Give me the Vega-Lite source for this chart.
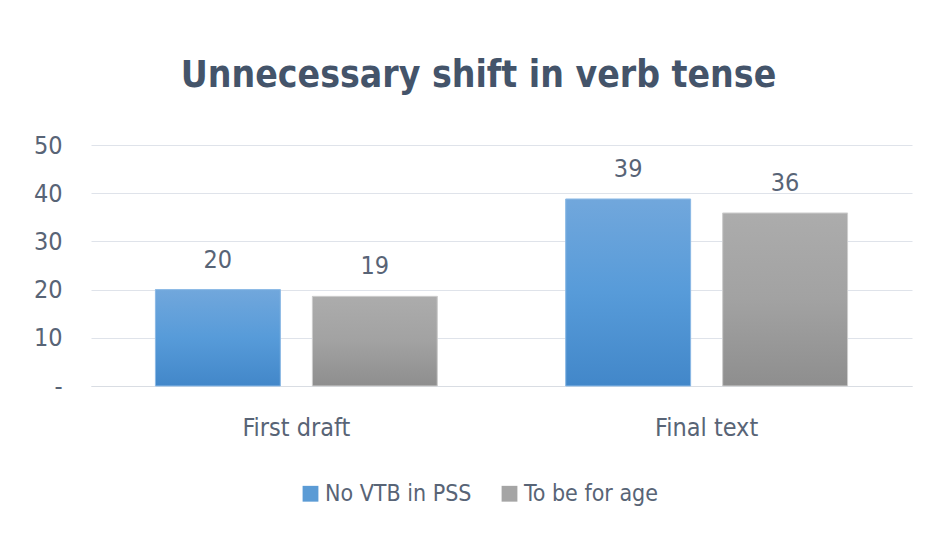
{
  "$schema": "https://vega.github.io/schema/vega-lite/v6.json",
  "width": 821,
  "height": 241,
  "autosize": {"type": "none"},
  "padding": {"left": 91, "top": 145, "right": 20, "bottom": 149},
  "background": "white",
  "config": {"view": {"stroke": null}},
  "title": {
    "text": "Unnecessary shift in verb tense",
    "font": "DejaVu Sans Condensed",
    "fontSize": 37,
    "fontWeight": "bold",
    "color": "#44546a",
    "anchor": "middle",
    "dx": -23,
    "baseline": "alphabetic",
    "offset": 9
  },
  "data": {
    "values": [
      {"stage": "First draft", "series": "No VTB in PSS", "value": 20.0},
      {"stage": "First draft", "series": "To be for age", "value": 18.6},
      {"stage": "Final text", "series": "No VTB in PSS", "value": 38.8},
      {"stage": "Final text", "series": "To be for age", "value": 35.9}
    ]
  },
  "encoding": {
    "x": {
      "field": "stage",
      "type": "nominal",
      "sort": ["First draft", "Final text"],
      "scale": {"paddingInner": 0.313, "paddingOuter": 0.157},
      "axis": {
        "title": null,
        "labelAngle": 0,
        "labelFont": "DejaVu Sans Condensed",
        "labelFontSize": 25,
        "labelColor": "#586476",
        "labelBaseline": "alphabetic",
        "labelPadding": 49,
        "ticks": false,
        "domainColor": "#d9dde3",
        "domainWidth": 1
      }
    },
    "xOffset": {
      "field": "series",
      "type": "nominal",
      "sort": ["No VTB in PSS", "To be for age"],
      "scale": {"domain": ["No VTB in PSS", "To be for age"], "paddingInner": 0.204, "paddingOuter": 0}
    },
    "y": {
      "field": "value",
      "type": "quantitative",
      "scale": {"domain": [0, 50], "nice": false},
      "axis": {
        "title": null,
        "values": [0, 10, 20, 30, 40, 50],
        "labelExpr": "datum.value == 0 ? '-' : datum.label",
        "labelFont": "DejaVu Sans Condensed",
        "labelFontSize": 25,
        "labelColor": "#586476",
        "labelBaseline": "middle",
        "labelPadding": 29,
        "ticks": false,
        "domain": false,
        "gridColor": "#dfe3ea",
        "gridWidth": 1
      }
    }
  },
  "layer": [
    {
      "mark": {"type": "bar"},
      "encoding": {
        "color": {
          "field": "series",
          "type": "nominal",
          "scale": {"domain": ["No VTB in PSS", "To be for age"], "range": ["#5b9bd5", "#a5a5a5"]},
          "legend": {
            "title": null,
            "orient": "none",
            "legendX": 208,
            "legendY": 337,
            "direction": "horizontal",
            "symbolType": "square",
            "symbolSize": 250,
            "symbolStrokeWidth": 0,
            "labelFont": "DejaVu Sans Condensed",
            "labelFontSize": 23,
            "labelLimit": 400,
            "labelColor": "#586476",
            "labelOffset": 3,
            "columnPadding": 26
          }
        }
      }
    },
    {
      "transform": [{"filter": "datum.series == 'No VTB in PSS'"}],
      "mark": {
        "type": "bar",
        "stroke": "#8fbbe6",
        "strokeWidth": 1,
        "color": {
          "gradient": "linear",
          "x1": 0, "y1": 0, "x2": 0, "y2": 1,
          "stops": [
            {"offset": 0, "color": "#71a7dc"},
            {"offset": 0.5, "color": "#579bd9"},
            {"offset": 1, "color": "#4287c9"}
          ]
        }
      }
    },
    {
      "transform": [{"filter": "datum.series == 'To be for age'"}],
      "mark": {
        "type": "bar",
        "stroke": "#d0d0d0",
        "strokeWidth": 1,
        "color": {
          "gradient": "linear",
          "x1": 0, "y1": 0, "x2": 0, "y2": 1,
          "stops": [
            {"offset": 0, "color": "#acacac"},
            {"offset": 0.5, "color": "#a2a2a2"},
            {"offset": 1, "color": "#8e8e8e"}
          ]
        }
      }
    },
    {
      "mark": {
        "type": "text",
        "baseline": "alphabetic",
        "dy": -22,
        "font": "DejaVu Sans Condensed",
        "fontSize": 25,
        "color": "#586476"
      },
      "encoding": {
        "text": {"field": "value", "type": "quantitative", "format": ".0f"}
      }
    }
  ]
}
